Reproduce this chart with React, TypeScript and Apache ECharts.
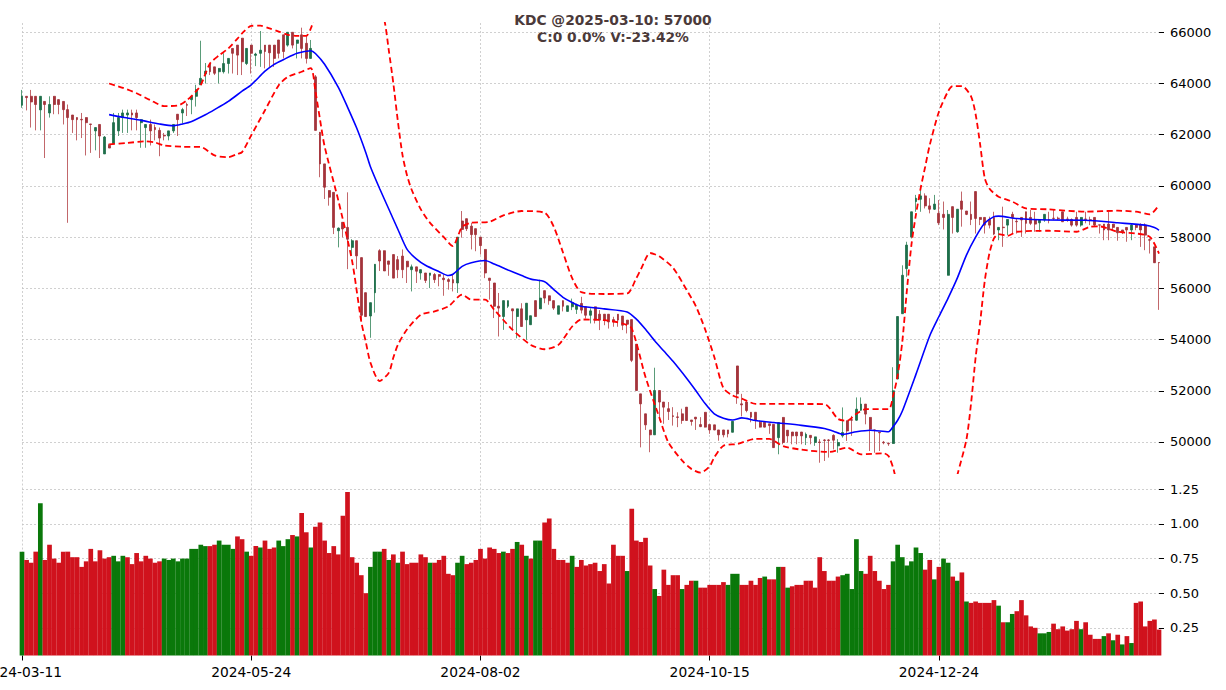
import React, { useEffect, useRef } from "react";
import * as echarts from "echarts";

// ---------- data ----------
const START_DATE = "2024-03-11";
const HOLIDAYS = [
  "2024-04-18", "2024-04-29", "2024-04-30", "2024-05-01",
  "2024-09-02", "2024-09-03",
  "2025-01-01", "2025-01-27", "2025-01-28", "2025-01-29", "2025-01-30", "2025-01-31",
];
const N_DAYS = 249;

const openP = [
  63150, 63500, 63500, 63500, 62970, 63300, 62850, 63500, 63370, 63300,
  62980, 62770, 62670, 62600, 62670, 62420, 62150, 62400, 61250, 61580,
  61650, 62150, 62670, 62770, 62850, 62850, 62470, 62280, 62400, 62280,
  62170, 61980, 61950, 62150, 62800, 62850, 63180, 63370, 63500, 63950,
  64370, 64780, 64650, 64460, 64460, 64780, 65370, 65500, 65770, 64780,
  65500, 65100, 65180, 65500, 65500, 65500, 65700, 65900, 65500, 66000,
  65570, 65900, 65570, 64980, 64260, 62100, 60860, 59820, 59750, 58250,
  58580, 58380, 57600, 57860, 57200, 55830, 54920, 55830, 57470, 57470,
  57070, 57320, 57120, 57260, 57060, 56730, 56840, 56600, 56600, 56510,
  56540, 56540, 56400, 56340, 56340, 56210, 58630, 58720, 58430, 58330,
  58000, 57520, 56400, 56210, 55300, 54900, 55300, 55200, 54900, 55200,
  54770, 54580, 55520, 55200, 55910, 55710, 55520, 54990, 55520, 55100,
  55280, 55180, 55410, 55280, 54950, 55280, 54990, 54990, 54990, 54780,
  54990, 54920, 54760, 54780, 53820, 51880, 51100, 50470, 50280, 52010,
  51560, 51300, 51020, 50980, 51100, 51360, 50860, 50970, 50680, 51160,
  50680, 50670, 50470, 50470, 50470, 50380, 52970, 51490, 51560, 51160,
  51160, 50770, 50770, 50710, 50690, 50170, 50960, 50460, 50390, 50390,
  50390, 50170, 50260, 49980, 50000, 50080, 50080, 50260, 49850, 50240,
  50830, 50870, 50850, 51240, 51480, 50960, 50470, 50380, 49990, 49950,
  49940, 52460, 55010, 56770, 58010, 59390, 59480, 59610, 59220, 59090,
  58930, 58890, 56510, 59190, 58210, 59410, 59020, 58890, 59780, 58770,
  58770, 58690, 58770, 58280, 58390, 58470, 58890, 58620, 58770, 58990,
  58770, 58690, 58560, 58670, 58680, 58740, 58740, 58990, 58710, 58690,
  58770, 58470, 58710, 58680, 58770, 58480, 58510, 58510, 58510, 58380,
  58280, 58380, 58280, 58470, 58470, 58470, 57900, 57620, 57010,
];
const highP = [
  63750, 63500, 63750, 63500, 63500, 63300, 63500, 63500, 63370, 63300,
  63180, 62770, 62670, 62850, 62670, 62420, 62280, 62400, 61950, 61650,
  62850, 62850, 62980, 62980, 62980, 62980, 62590, 62400, 62590, 62400,
  62280, 62070, 62150, 62400, 62800, 63050, 63250, 63500, 63950, 65670,
  64800, 64780, 64650, 64590, 65180, 64980, 65370, 65500, 65770, 65370,
  65500, 65200, 66050, 65500, 65500, 65500, 65700, 65900, 66000, 66000,
  65700, 66180, 65900, 65700, 64330, 62100, 60860, 59820, 59750, 58380,
  58580, 59750, 57920, 57860, 57200, 55830, 55440, 56940, 57530, 57470,
  57070, 57320, 57260, 57520, 57060, 56930, 56840, 56730, 56600, 56600,
  56600, 56540, 56540, 56400, 56540, 58000, 59020, 58720, 58560, 58330,
  58000, 57520, 56400, 56210, 55820, 55520, 55520, 55200, 55200, 55420,
  55420, 54930, 55520, 56340, 55910, 55710, 55520, 55320, 55520, 55320,
  55600, 55400, 55670, 55280, 55220, 55280, 55150, 54990, 54990, 54890,
  54990, 54920, 54760, 54780, 53820, 51880, 51100, 50470, 52900, 52010,
  51560, 51560, 51360, 51160, 51300, 51360, 50860, 50970, 50970, 51160,
  50680, 50670, 50470, 50470, 50470, 50810, 52970, 51880, 51560, 51160,
  51160, 50840, 50770, 50710, 50690, 50760, 50960, 50460, 50390, 50390,
  50390, 50370, 50260, 50200, 50110, 50110, 50110, 50300, 50110, 51350,
  50830, 51020, 51740, 51740, 51480, 50960, 50480, 50390, 50040, 49980,
  52920, 54900, 56900, 57820, 58990, 59650, 59970, 59710, 59520, 59650,
  59450, 59390, 59060, 59190, 59090, 59780, 59020, 59390, 59780, 58770,
  58770, 58800, 58990, 58380, 59190, 58690, 58990, 58730, 58770, 58990,
  59060, 58990, 58690, 58890, 58990, 59060, 58800, 58990, 58800, 58730,
  58990, 58770, 58990, 58800, 58770, 58480, 58510, 58990, 58510, 58380,
  58280, 58380, 58540, 58470, 58540, 58540, 57950, 57620, 57010,
];
const lowP = [
  63050, 62950, 62280, 62170, 62170, 61090, 62670, 62800, 62800, 62400,
  58560, 62070, 61780, 61870, 61190, 61290, 61390, 61090, 61250, 61480,
  61650, 61950, 62070, 62070, 62170, 62170, 61490, 61490, 61580, 61780,
  61160, 61780, 61780, 62070, 61950, 62440, 62730, 62800, 63100, 63950,
  64000, 64330, 64330, 64000, 64390, 64390, 64390, 64330, 64330, 64720,
  64390, 64680, 64650, 64590, 64650, 64650, 64980, 64980, 65440, 65370,
  64980, 64980, 64780, 64980, 62170, 60340, 59490, 59230, 58120, 57600,
  57990, 56750, 57270, 56750, 54720, 54880, 54070, 55050, 56680, 56680,
  56490, 56400, 56400, 56400, 56210, 55880, 56210, 56340, 56210, 56010,
  56210, 56080, 55710, 55950, 55880, 55820, 57980, 58240, 57520, 57450,
  57320, 56400, 55560, 54840, 54120, 54380, 55230, 54380, 54050, 54510,
  53990, 54580, 54900, 55200, 55420, 55360, 55160, 54990, 55100, 55100,
  55150, 55000, 55020, 54820, 54630, 54630, 54370, 54560, 54430, 54500,
  54500, 54370, 54240, 53120, 52010, 49790, 50470, 49600, 50280, 50840,
  50710, 50860, 50640, 50580, 50710, 50830, 50640, 50470, 50580, 50570,
  50320, 50460, 50050, 50180, 50180, 50380, 51490, 51000, 51160, 50770,
  50510, 50570, 50570, 50320, 49770, 49520, 49910, 49980, 49910, 49910,
  49910, 49880, 49910, 49850, 49190, 49260, 49390, 49710, 49580, 50170,
  50040, 50240, 50830, 51220, 50690, 49650, 49580, 49650, 49910, 49850,
  49940, 52460, 55010, 56450, 57950, 58990, 58990, 59120, 58930, 59060,
  58470, 58300, 56510, 58140, 58170, 58410, 58860, 58470, 58140, 58470,
  58140, 58340, 58080, 57880, 57620, 58080, 58140, 58140, 58010, 58140,
  58470, 58210, 58210, 58600, 58540, 58670, 58670, 58590, 58600, 58410,
  58410, 58410, 58540, 58470, 58410, 58140, 57880, 57880, 58270, 57860,
  58120, 57820, 57880, 58270, 57620, 57490, 57360, 56990, 55160,
];
const closeP = [
  63500, 63450, 63280, 63180, 63500, 63180, 63180, 63180, 63180, 62980,
  62670, 62590, 62590, 62580, 62470, 62400, 62280, 61950, 61910, 61480,
  62470, 62670, 62850, 62850, 62770, 62670, 62590, 62400, 62150, 62200,
  61870, 61950, 62150, 62400, 62590, 62980, 63150, 63500, 63760, 64200,
  64480, 64460, 64400, 64590, 64780, 64980, 65180, 65110, 64850, 65370,
  65180, 65150, 65300, 65250, 65200, 64980, 65180, 65250, 66000, 65500,
  65700, 65370, 64980, 65370, 62170, 60860, 59950, 59560, 58380, 58350,
  58320, 57920, 57860, 57270, 54950, 54900, 55440, 56940, 57070, 56680,
  56940, 56400, 56730, 56730, 56840, 56840, 56670, 56730, 56310, 56600,
  56340, 56470, 56340, 56270, 56210, 58000, 58300, 58330, 58100, 58100,
  57670, 56600, 56310, 55300, 55230, 55520, 55520, 55120, 55200, 54510,
  55420, 54930, 54900, 55620, 55620, 55520, 55230, 55320, 55300, 55320,
  55450, 55350, 55150, 54950, 55120, 54760, 54760, 54760, 54690, 54690,
  54760, 54560, 54600, 53190, 52010, 51490, 50670, 50280, 52010, 51560,
  51360, 51190, 51000, 50960, 50840, 50840, 50800, 50900, 50600, 50580,
  50470, 50470, 50280, 50280, 50320, 50810, 51880, 51450, 51230, 50970,
  50840, 50580, 50580, 50640, 49780, 50760, 49980, 50240, 50240, 50240,
  50240, 50300, 50170, 50200, 49980, 50060, 50060, 50070, 49980, 50370,
  50430, 50850, 51280, 51480, 51090, 50500, 50460, 50360, 49970, 49930,
  52000, 54900, 56510, 57690, 58990, 59520, 59610, 59220, 59090, 59290,
  58560, 58770, 58890, 58770, 59090, 59090, 58890, 58690, 58730, 58690,
  58470, 58470, 58120, 58380, 58370, 58690, 58770, 58600, 58670, 58540,
  58540, 58510, 58690, 58890, 58660, 58730, 58730, 58600, 58690, 58470,
  58470, 58770, 58690, 58660, 58470, 58470, 58280, 58280, 58380, 58170,
  58170, 58280, 58470, 58380, 58280, 58080, 57880, 57000, 57000,
];
const volume = [
  0.80, 0.74, 0.72, 0.80, 1.15, 0.74, 0.85, 0.75, 0.72, 0.80,
  0.80, 0.76, 0.76, 0.69, 0.73, 0.82, 0.73, 0.81, 0.75, 0.76,
  0.77, 0.73, 0.77, 0.76, 0.71, 0.79, 0.73, 0.77, 0.75, 0.72,
  0.73, 0.75, 0.74, 0.75, 0.73, 0.75, 0.75, 0.82, 0.82, 0.85,
  0.84, 0.84, 0.85, 0.88, 0.85, 0.85, 0.82, 0.91, 0.89, 0.80,
  0.77, 0.84, 0.83, 0.88, 0.82, 0.83, 0.88, 0.84, 0.89, 0.92,
  0.91, 1.08, 0.94, 0.83, 0.98, 1.01, 0.88, 0.79, 0.84, 0.78,
  1.06, 1.23, 0.76, 0.72, 0.63, 0.50, 0.69, 0.80, 0.80, 0.82,
  0.74, 0.78, 0.72, 0.80, 0.71, 0.72, 0.72, 0.78, 0.76, 0.72,
  0.72, 0.74, 0.77, 0.64, 0.63, 0.72, 0.77, 0.71, 0.72, 0.74,
  0.82, 0.75, 0.83, 0.82, 0.79, 0.80, 0.79, 0.82, 0.87, 0.85,
  0.77, 0.75, 0.88, 0.88, 1.01, 1.04, 0.82, 0.74, 0.74, 0.72,
  0.77, 0.69, 0.74, 0.70, 0.71, 0.72, 0.66, 0.71, 0.57, 0.85,
  0.77, 0.77, 0.66, 1.11, 0.88, 0.87, 0.90, 0.70, 0.53, 0.48,
  0.67, 0.56, 0.63, 0.63, 0.53, 0.56, 0.59, 0.59, 0.54, 0.54,
  0.56, 0.56, 0.56, 0.58, 0.56, 0.64, 0.64, 0.56, 0.56, 0.59,
  0.56, 0.61, 0.62, 0.60, 0.60, 0.69, 0.69, 0.54, 0.55, 0.56,
  0.56, 0.59, 0.59, 0.54, 0.76, 0.66, 0.59, 0.59, 0.62, 0.63,
  0.64, 0.53, 0.89, 0.66, 0.64, 0.77, 0.66, 0.59, 0.53, 0.56,
  0.73, 0.85, 0.76, 0.70, 0.73, 0.83, 0.79, 0.67, 0.74, 0.60,
  0.69, 0.75, 0.72, 0.62, 0.59, 0.65, 0.44, 0.43, 0.44, 0.43,
  0.43, 0.43, 0.45, 0.41, 0.29, 0.29, 0.35, 0.37, 0.45, 0.34,
  0.26, 0.25, 0.21, 0.21, 0.22, 0.28, 0.24, 0.26, 0.23, 0.24,
  0.30, 0.24, 0.29, 0.20, 0.17, 0.17, 0.19, 0.21, 0.16, 0.20,
  0.13, 0.19, 0.14, 0.43, 0.44, 0.26, 0.30, 0.31, 0.237,
];
// 1 = volume bar drawn green (close above previous close), 0 = red
const volumeUp = [
  1, 0, 0, 0, 1, 0, 0, 0, 0, 0,
  0, 0, 0, 0, 0, 0, 0, 0, 0, 0,
  1, 1, 1, 0, 0, 0, 0, 0, 0, 0,
  0, 1, 1, 1, 1, 1, 1, 1, 1, 1,
  1, 0, 0, 1, 1, 1, 1, 0, 0, 1,
  0, 0, 1, 0, 0, 0, 1, 1, 1, 0,
  1, 0, 0, 1, 0, 0, 0, 0, 0, 0,
  0, 0, 0, 0, 0, 0, 1, 1, 1, 0,
  1, 0, 1, 0, 0, 0, 0, 0, 0, 1,
  0, 0, 0, 0, 0, 1, 1, 0, 0, 0,
  0, 0, 0, 0, 0, 1, 0, 0, 1, 0,
  1, 0, 1, 1, 0, 0, 0, 0, 0, 0,
  1, 0, 0, 0, 0, 0, 0, 0, 0, 0,
  0, 0, 1, 0, 0, 0, 0, 0, 1, 0,
  0, 0, 0, 0, 1, 0, 0, 1, 0, 0,
  0, 0, 0, 0, 1, 1, 1, 0, 0, 0,
  0, 0, 1, 0, 0, 1, 0, 1, 0, 0,
  0, 0, 0, 0, 0, 0, 0, 0, 0, 1,
  1, 1, 1, 1, 0, 0, 0, 0, 0, 0,
  1, 1, 1, 1, 1, 1, 1, 0, 0, 1,
  0, 1, 1, 0, 1, 0, 1, 0, 0, 0,
  0, 0, 0, 1, 0, 1, 1, 0, 0, 0,
  0, 0, 1, 1, 1, 0, 0, 0, 0, 0,
  0, 1, 0, 0, 0, 0, 1, 0, 1, 0,
  1, 0, 1, 0, 0, 0, 0, 0, 0,
];

// Bollinger band readings: [candle index, price]
const midBand = [
  [19, 62785], [22, 62680], [26, 62560], [30, 62420], [33, 62350], [35, 62420], [37, 62520],
  [40, 62780], [42, 62980], [45, 63300], [48, 63700], [50, 63950], [53, 64480], [55, 64750],
  [57, 64930], [60, 65180], [63, 65280], [64, 65170], [66, 64750], [69, 63850], [71, 63080],
  [73, 62260], [75, 61300], [76, 60750], [78, 59900], [80, 59100], [82, 58300], [84, 57520],
  [86, 57150], [88, 56900], [91, 56650], [93, 56500], [94, 56550], [96, 56860], [98, 57000],
  [101, 57090], [103, 56950], [106, 56720], [109, 56500], [111, 56360], [114, 56260],
  [116, 55950], [118, 55650], [120, 55450], [122, 55300], [127, 55200], [132, 55080],
  [134, 54800], [136, 54400], [138, 53950], [140, 53550], [142, 53150], [145, 52480],
  [147, 52000], [149, 51500], [151, 51100], [153, 50930], [155, 50860], [157, 50940],
  [160, 50840], [164, 50760], [170, 50650], [175, 50530], [177, 50420], [179, 50300],
  [182, 50400], [185, 50460], [189, 50400], [190, 50600], [191, 50850], [192, 51200],
  [195, 52650], [198, 54150], [200, 54900], [202, 55620], [204, 56400], [206, 57300],
  [208, 58000], [210, 58550], [212, 58800], [213, 58820], [217, 58730], [224, 58670],
  [232, 58660], [239, 58560], [245, 58470], [247, 58380], [248, 58270],
];
const upperBand = [
  [19, 64000], [22, 63830], [25, 63620], [28, 63350], [31, 63120], [34, 63140], [36, 63350],
  [38, 63700], [39, 63935], [41, 64780], [43, 65100], [45, 65370], [47, 65750], [48, 65960],
  [50, 66250], [52, 66260], [54, 66150], [56, 66030], [58, 65900], [60, 65860], [62, 65860],
  [63, 66150], [64, 66700], [66, 67600], [69, 68300], [72, 68500], [75, 68100], [77, 67400],
  [79, 66500], [80, 65300], [81, 64000], [82, 62500], [83, 61200], [84, 60400], [85, 59850],
  [87, 59085], [89, 58560], [92, 58000], [94, 57650], [95, 58000], [96, 58400], [98, 58560],
  [102, 58600], [105, 58850], [109, 59020], [114, 58950], [116, 58400], [118, 57400],
  [120, 56400], [122, 55850], [127, 55780], [132, 55800], [134, 56400], [135, 56750],
  [137, 57380], [139, 57250], [142, 56800], [145, 55930], [147, 55300], [149, 54400],
  [151, 53320], [153, 52100], [155, 51818], [157, 51690], [160, 51490], [175, 51480],
  [178, 50900], [180, 50830], [182, 51100], [184, 51280], [189, 51280], [190, 51800],
  [191, 52600], [192, 53900], [193, 55900], [194, 57700], [195, 58900], [196, 59900],
  [197, 60750], [198, 61600], [200, 62900], [202, 63700], [203, 63900], [205, 63900],
  [207, 63500], [208, 62800], [209, 61600], [210, 60300], [211, 59900], [213, 59580],
  [216, 59390], [219, 59120], [224, 59085], [232, 58994], [239, 59033], [243, 58994],
  [246, 58889], [248, 59255],
];
const lowerBand = [
  [19, 61620], [23, 61680], [27, 61740], [29, 61700], [31, 61580], [35, 61530], [39, 61520],
  [42, 61190], [45, 61125], [47, 61250], [48, 61320], [50, 61975], [53, 62955], [56, 63935],
  [58, 64260], [61, 64460], [63, 64600], [64, 63700], [65, 62600], [66, 61550], [69, 59430],
  [72, 57070], [74, 54700], [75, 53900], [76, 53100], [78, 52380], [80, 52700], [81, 53300],
  [82, 53800], [84, 54400], [87, 54968], [90, 55098], [93, 55295], [96, 55752], [98, 55556],
  [101, 55556], [103, 55164], [107, 54380], [111, 53791], [114, 53622], [117, 53791],
  [120, 54510], [122, 54784], [127, 54758], [131, 54628], [133, 54432], [136, 52536],
  [139, 50968], [141, 49980], [144, 49270], [146, 48950], [148, 48800], [150, 49050],
  [151, 49400], [153, 49857], [156, 49922], [160, 50119], [163, 50119], [166, 49840],
  [170, 49700], [176, 49609], [180, 49779], [183, 49518], [188, 49557], [189, 49450],
  [190, 49000], [191, 48300], [194, 47000], [197, 46500], [200, 46600], [202, 47300],
  [204, 48700], [206, 50100], [207, 51500], [208, 53300], [209, 54700], [210, 56300],
  [211, 57360], [212, 57948], [213, 58118], [215, 58053], [217, 58210], [224, 58249],
  [230, 58210], [233, 58405], [235, 58420], [239, 58210], [243, 58144], [246, 58013],
  [248, 57360],
];

const priceTicks = [50000, 52000, 54000, 56000, 58000, 60000, 62000, 64000, 66000];
const volumeTicks = [0.25, 0.5, 0.75, 1.0, 1.25];
const TITLE_LINE1 = "KDC @2025-03-10: 57000";
const TITLE_LINE2 = "C:0 0.0% V:-23.42%";

function buildDates(start: string, n: number, holidays: string[]): string[] {
  const out: string[] = [];
  const d = new Date(start + "T00:00:00Z");
  while (out.length < n) {
    const wd = d.getUTCDay();
    const s = d.toISOString().slice(0, 10);
    if (wd !== 0 && wd !== 6 && holidays.indexOf(s) < 0) out.push(s);
    d.setUTCDate(d.getUTCDate() + 1);
  }
  return out;
}

const FONT = "DejaVu Sans";
const GRID_LINE = { color: "#c4c4c4", type: [2, 2] as any, width: 0.8 };

export default function App() {
  const ref = useRef<HTMLDivElement>(null);

  useEffect(() => {
    if (!ref.current) return;
    const chart = echarts.init(ref.current, undefined, { renderer: "svg" });
    const dates = buildDates(START_DATE, N_DAYS, HOLIDAYS);

    const wickData = openP.map((o, i) => [o, closeP[i], lowP[i], highP[i]]);
    const bodyData = openP.map((o, i) => [
      o,
      closeP[i],
      Math.min(o, closeP[i]),
      Math.max(o, closeP[i]),
    ]);
    const volData = volume.map((v, i) => ({
      value: v,
      itemStyle: { color: volumeUp[i] ? "#0a780a" : "#d0121d" },
    }));

    const bandLine = (name: string, data: number[][], color: string, dashed: boolean) => ({
      name,
      type: "line",
      xAxisIndex: 0,
      yAxisIndex: 0,
      data,
      showSymbol: false,
      smooth: 0.25,
      clip: true,
      z: 5,
      lineStyle: {
        color,
        width: dashed ? 1.8 : 1.6,
        type: dashed ? ([6, 3.5] as any) : "solid",
      },
      silent: true,
    });

    chart.setOption({
      animation: false,
      textStyle: { fontFamily: FONT },
      graphic: [
        {
          type: "text",
          x: 613,
          y: 20,
          style: {
            text: TITLE_LINE1,
            font: `bold 13.8px "${FONT}"`,
            fill: "#4b3a3a",
            align: "center",
            verticalAlign: "middle",
          },
        },
        {
          type: "text",
          x: 613,
          y: 36.5,
          style: {
            text: TITLE_LINE2,
            font: `bold 13.8px "${FONT}"`,
            fill: "#4b3a3a",
            align: "center",
            verticalAlign: "middle",
          },
        },
      ],
      grid: [
        { left: 22, right: 67, top: 23, height: 450, containLabel: false, outerBoundsMode: "none" },
        { left: 22, right: 67, top: 475.5, height: 180, containLabel: false, outerBoundsMode: "none" },
      ],
      xAxis: [
        {
          type: "category",
          gridIndex: 0,
          data: dates,
          boundaryGap: false,
          axisLine: { show: false },
          axisTick: { show: false },
          axisLabel: { show: false },
          splitLine: { show: true, interval: 49, lineStyle: GRID_LINE },
        },
        {
          type: "category",
          gridIndex: 1,
          data: dates,
          boundaryGap: false,
          axisLine: { show: false },
          axisTick: {
            show: true,
            interval: 49,
            length: 5,
            lineStyle: { color: "#000", width: 1 },
          },
          axisLabel: {
            interval: 49,
            fontSize: 13.8,
            color: "#000",
            margin: 9,
            fontFamily: FONT,
          },
          splitLine: { show: true, interval: 49, lineStyle: GRID_LINE },
        },
      ],
      yAxis: [
        {
          type: "value",
          gridIndex: 0,
          position: "right",
          min: 48789,
          max: 66363,
          axisLine: { show: false },
          axisTick: {
            show: true,
            length: 5,
            customValues: priceTicks,
            lineStyle: { color: "#000", width: 1 },
          },
          axisLabel: {
            customValues: priceTicks,
            formatter: (v: number) => String(Math.round(v)),
            fontSize: 13,
            color: "#000",
            margin: 11,
            fontFamily: FONT,
          },
          splitLine: { show: true, lineStyle: GRID_LINE },
        },
        {
          type: "value",
          gridIndex: 1,
          position: "right",
          min: 0.05,
          max: 1.35,
          axisLine: { show: false },
          axisTick: {
            show: true,
            length: 5,
            customValues: volumeTicks,
            lineStyle: { color: "#000", width: 1 },
          },
          axisLabel: {
            customValues: volumeTicks,
            formatter: (v: number) => v.toFixed(2),
            fontSize: 13,
            color: "#000",
            margin: 11,
            fontFamily: FONT,
          },
          splitLine: { show: true, lineStyle: GRID_LINE },
        },
      ],
      series: [
        {
          name: "wick",
          type: "candlestick",
          xAxisIndex: 0,
          yAxisIndex: 0,
          data: wickData,
          barWidth: 1,
          clip: false,
          z: 2,
          silent: true,
          itemStyle: {
            color: "#5a9c79",
            color0: "#c2676b",
            borderColor: "#5a9c79",
            borderColor0: "#c2676b",
            borderWidth: 1,
          },
        },
        {
          name: "body",
          type: "candlestick",
          xAxisIndex: 0,
          yAxisIndex: 0,
          data: bodyData,
          barWidth: 2.4,
          clip: false,
          z: 3,
          silent: true,
          itemStyle: {
            color: "#1e6e4a",
            color0: "#a3343b",
            borderColor: "#1e6e4a",
            borderColor0: "#a3343b",
            borderWidth: 0.8,
          },
        },
        bandLine("upper", upperBand, "#ff0000", true),
        bandLine("lower", lowerBand, "#ff0000", true),
        bandLine("mid", midBand, "#0000ff", false),
        {
          name: "volume",
          type: "bar",
          xAxisIndex: 1,
          yAxisIndex: 1,
          data: volData,
          barCategoryGap: "0%",
          barWidth: 4.7,
          silent: true,
        },
      ],
    });

    return () => chart.dispose();
  }, []);

  return (
    <div
      ref={ref}
      style={{ position: "absolute", left: 0, top: 0, width: 1226, height: 690 }}
    />
  );
}
